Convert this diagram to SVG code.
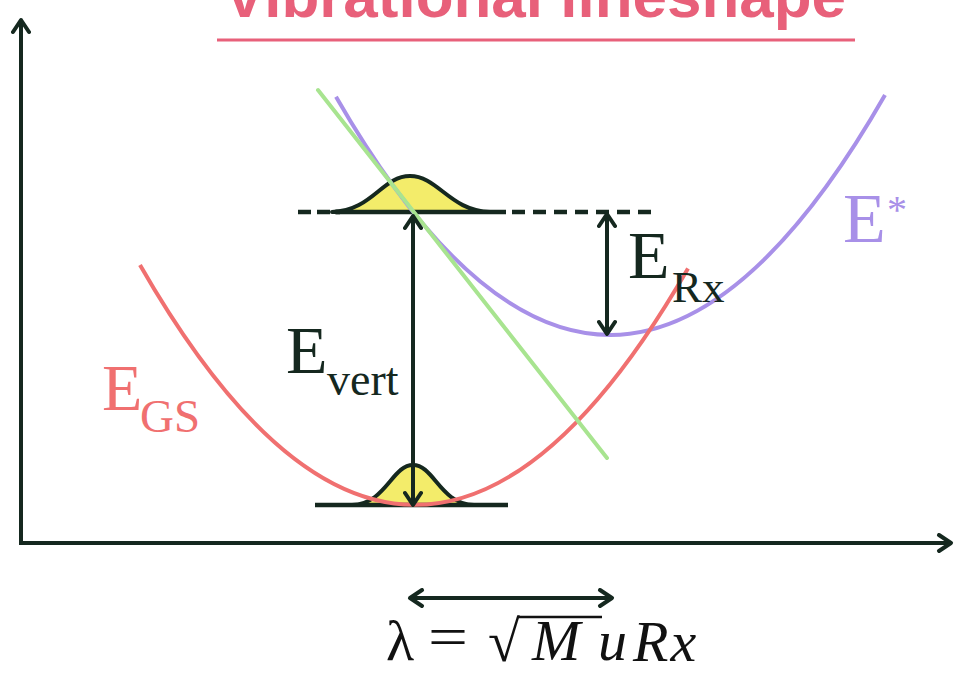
<svg xmlns="http://www.w3.org/2000/svg" width="957" height="673" viewBox="0 0 957 673">
<defs>
<marker id="ah" viewBox="0 0 20 20" refX="17" refY="10" markerWidth="20" markerHeight="20" markerUnits="userSpaceOnUse" orient="auto-start-reverse">
<path d="M5,2 L17,10 L5,18" fill="none" stroke="#15281f" stroke-width="4" stroke-linecap="round" stroke-linejoin="round"/>
</marker>
<style>
.ax{stroke:#15281f;stroke-width:4;fill:none}
.arr{stroke:#15281f;stroke-width:4;fill:none;marker-start:url(#ah);marker-end:url(#ah)}
.wp{fill:#f3ec6a;stroke:#15281f;stroke-width:4;stroke-linejoin:round}
.base{stroke:#15281f;stroke-width:4.5;fill:none}
.lbl{font-family:"Liberation Serif","Times New Roman",serif}
.math{font-family:"Liberation Serif","Times New Roman",serif;font-size:58px;fill:#111}
</style>
</defs>
<rect width="957" height="673" fill="#ffffff"/>
<g id="title">
<text x="535" y="17" text-anchor="middle" font-family="Liberation Sans,Arial,sans-serif" font-weight="bold" font-size="62" fill="#e8607a" textLength="622" lengthAdjust="spacingAndGlyphs">Vibrational lineshape</text>
<line x1="217" y1="40" x2="855" y2="40" stroke="#e8607a" stroke-width="3"/>
</g>
<g id="axes">
<line class="ax" x1="21" y1="542" x2="21" y2="20" marker-end="url(#ah)"/>
<line class="ax" x1="19" y1="543" x2="951" y2="543" marker-end="url(#ah)"/>
</g>
<g id="wavepacket-upper">
<line class="base" x1="298" y1="212" x2="340" y2="212" stroke-dasharray="13 6"/>
<path class="wp" d="M332,212 C372,211 382,176 410,176 C438,176 450,211 490,212 Z"/>
<line class="base" x1="335" y1="212" x2="506" y2="212"/>
<line class="base" x1="512" y1="212" x2="652" y2="212" stroke-dasharray="13 8"/>
</g>
<g id="wavepacket-lower">
<path class="wp" d="M352,505 C386,504 392,465 413,465 C434,465 440,504 474,505 Z"/>
<line class="base" x1="315" y1="505" x2="508" y2="505"/>
</g>
<g id="E-star">
<path d="M336,96.7 Q610.5,574 885,95" fill="none" stroke="#a890e8" stroke-width="4"/>
<text class="lbl" x="843" y="242" font-size="70" fill="#a890e8">E</text>
<text class="lbl" x="887" y="223" font-size="40" fill="#a890e8">*</text>
</g>
<g id="E-GS">
<path d="M140,265 Q414,743 688,268.4" fill="none" stroke="#f07070" stroke-width="4"/>
<text class="lbl" x="102" y="410" font-size="66" fill="#f07070">E</text>
<text class="lbl" x="140" y="432" font-size="47" fill="#f07070">GS</text>
</g>
<g id="tangent">
<line x1="318" y1="90" x2="607" y2="458" stroke="#a8e490" stroke-width="4" stroke-linecap="round"/>
</g>
<g id="connectors">
<line class="arr" x1="413" y1="216" x2="413" y2="505"/>
<line class="arr" x1="607" y1="214" x2="607" y2="334"/>
<line class="arr" x1="410" y1="598" x2="612" y2="598"/>
</g>
<g id="E-vert">
<text class="lbl" x="286" y="373" font-size="68" fill="#15281f">E</text>
<text class="lbl" x="327" y="395" font-size="46" fill="#15281f">vert</text>
</g>
<g id="E-Rx">
<text class="lbl" x="628" y="278" font-size="68" fill="#15281f">E</text>
<text class="lbl" x="672" y="302" font-size="45" fill="#15281f">Rx</text>
</g>
<g id="formula">
<text class="math" x="386" y="660">λ</text>
<text class="math" x="428" y="656" textLength="40" lengthAdjust="spacingAndGlyphs">=</text>
<text class="math" x="488" y="661" font-size="66">√</text>
<line x1="518" y1="617" x2="602" y2="617" stroke="#111" stroke-width="2.5"/>
<text class="math" x="532" y="660" font-size="60" font-style="italic">M</text>
<text class="math" x="598" y="660" font-style="italic">u</text>
<text class="math" x="633" y="661" font-size="36" font-style="italic" letter-spacing="2">Rx</text>
</g>
</svg>
